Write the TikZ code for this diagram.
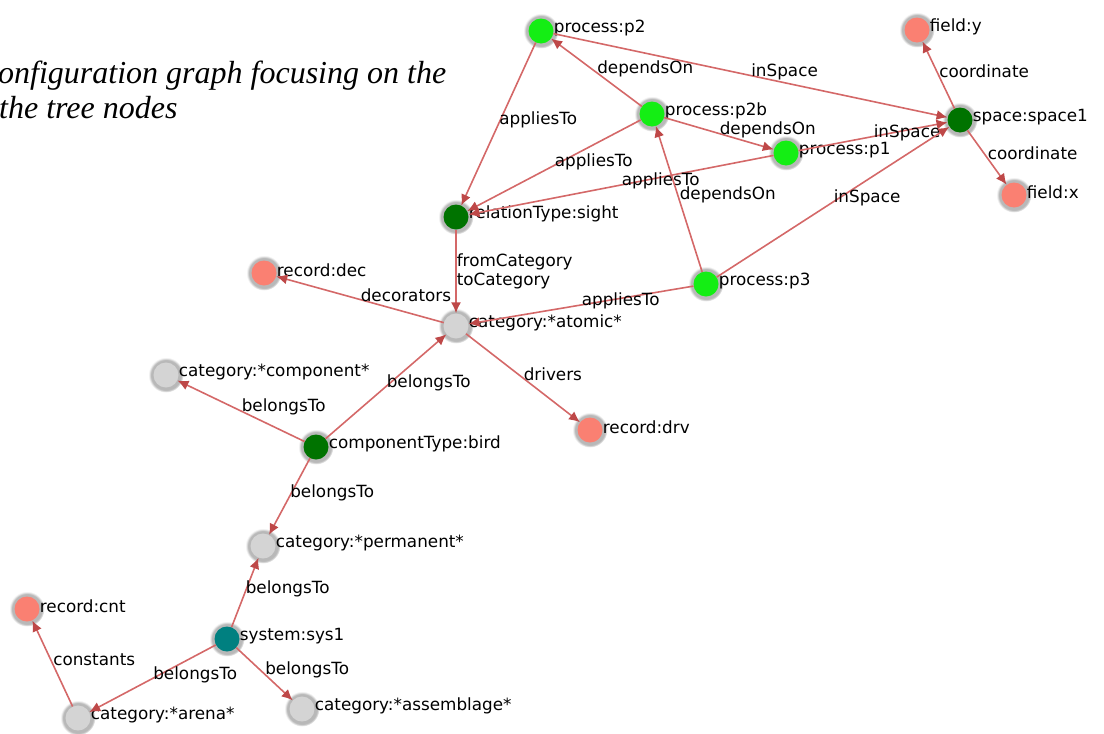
\documentclass[tikz,border=0pt]{standalone}
\usepackage{fontspec}
\setmainfont{DejaVu Sans}
\newfontfamily\capfont{Liberation Serif}
\usetikzlibrary{arrows.meta,shadows}

\definecolor{procgreen}{RGB}{20,238,20}
\definecolor{typegreen}{RGB}{0,115,0}
\definecolor{systeal}{RGB}{0,128,128}
\definecolor{recsalmon}{RGB}{250,128,114}
\definecolor{catgray}{RGB}{212,212,212}
\definecolor{linkred}{RGB}{212,104,104}
\definecolor{tipred}{RGB}{190,72,72}

\begin{document}
\begin{tikzpicture}[
  x=1pt,y=-1pt,
  object/.style={circle,minimum size=25pt,inner sep=0pt,
    circular glow={fill=black,opacity=0.28,shadow scale=1.4}},
  proc/.style={object,fill=procgreen},
  kind/.style={object,fill=typegreen},
  sys/.style={object,fill=systeal},
  rec/.style={object,fill=recsalmon},
  cat/.style={object,fill=catgray},
  tag/.style={font=\fontsize{16.8}{19}\selectfont,inner sep=0pt,anchor=west,xshift=0pt,yshift=3pt},
  link/.style={draw=linkred,line width=1.6pt,-{Latex[length=11pt,width=10pt,color=tipred]}},
  rel/.style={font=\fontsize{16.8}{19}\selectfont,inner sep=0pt,anchor=west,yshift=4pt,midway},
  caption/.style={font=\capfont\itshape\fontsize{32}{35}\selectfont,anchor=base west,inner sep=0pt}
]
  \clip (0,0) rectangle (1104,734);
  \useasboundingbox (0,0) rectangle (1104,734);

  % caption, cut at the left edge
  \node[caption] (cap1) at (-2,83) {onfiguration graph focusing on the};
  \node[caption] (cap2) at (-1,118) {the tree nodes};

  % processes and space
  \node[proc,label={[tag]0:process:p2}] (p2) at (541,31) {};
  \node[proc,label={[tag]0:process:p2b}] (p2b) at (652,114) {};
  \node[proc,label={[tag]0:process:p1}] (p1) at (786,153) {};
  \node[proc,label={[tag]0:process:p3}] (p3) at (706,284) {};
  \node[kind,label={[tag]0:space:space1}] (space) at (960,120) {};
  \node[rec,label={[tag]0:field:y}] (fy) at (917,30) {};
  \node[rec,label={[tag]0:field:x}] (fx) at (1014,195) {};
  \node[kind,label={[tag]0:relationType:sight}] (sight) at (456,217) {};

  % categories and records
  \node[cat,label={[tag]0:category:*atomic*}] (atomic) at (456,326) {};
  \node[rec,label={[tag]0:record:dec}] (dec) at (264,273) {};
  \node[rec,label={[tag]0:record:drv}] (drv) at (590,430) {};
  \node[cat,label={[tag]0:category:*component*}] (comp) at (166,375) {};
  \node[kind,label={[tag]0:componentType:bird}] (bird) at (316,447) {};
  \node[cat,label={[tag]0:category:*permanent*}] (perm) at (263,546) {};
  \node[sys,label={[tag]0:system:sys1}] (sys) at (227,639) {};
  \node[rec,label={[tag]0:record:cnt}] (cnt) at (27,609) {};
  \node[cat,label={[tag]0:category:*arena*}] (arena) at (78,718) {};
  \node[cat,label={[tag]0:category:*assemblage*}] (assem) at (302,709) {};

  \draw[link] (p2) -- node[rel] {appliesTo} (sight);
  \draw[link] (p2b) -- node[rel] {dependsOn} (p2);
  \draw[link] (p2) -- node[rel] {inSpace} (space);
  \draw[link] (p2b) -- node[rel] {dependsOn} (p1);
  \draw[link] (p1) -- node[rel] {inSpace} (space);
  \draw[link] (p2b) -- node[rel] {appliesTo} (sight);
  \draw[link] (p1) -- node[rel] {appliesTo} (sight);
  \draw[link] (p3) -- node[rel] {dependsOn} (p2b);
  \draw[link] (p3) -- node[rel] {inSpace} (space);
  \draw[link] (space) -- node[rel] {coordinate} (fy);
  \draw[link] (space) -- node[rel] {coordinate} (fx);
  \draw[link] (sight) -- node[rel,align=left,yshift=-4pt] {fromCategory\\toCategory} (atomic);
  \draw[link] (atomic) -- node[rel] {decorators} (dec);
  \draw[link] (p3) -- node[rel] {appliesTo} (atomic);
  \draw[link] (atomic) -- node[rel] {drivers} (drv);
  \draw[link] (bird) -- node[rel] {belongsTo} (atomic);
  \draw[link] (bird) -- node[rel] {belongsTo} (comp);
  \draw[link] (bird) -- node[rel] {belongsTo} (perm);
  \draw[link] (sys) -- node[rel] {belongsTo} (perm);
  \draw[link] (arena) -- node[rel] {constants} (cnt);
  \draw[link] (sys) -- node[rel] {belongsTo} (arena);
  \draw[link] (sys) -- node[rel] {belongsTo} (assem);
\end{tikzpicture}
\end{document}
